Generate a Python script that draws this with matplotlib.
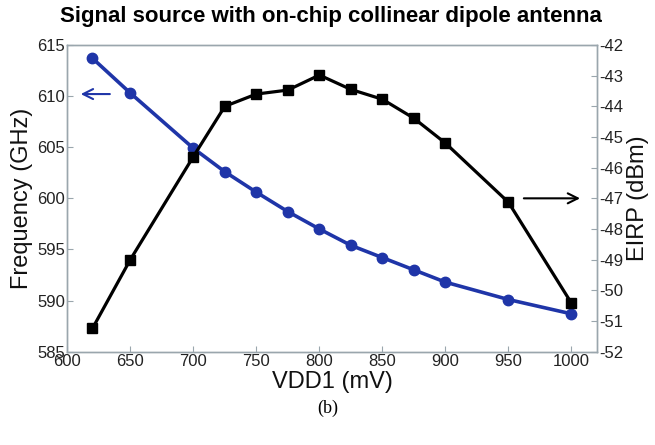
import matplotlib
matplotlib.use('Agg')
import matplotlib.pyplot as plt

plt.rcParams['font.family'] = ['Liberation Sans Narrow', 'Liberation Sans', 'DejaVu Sans']
plt.rcParams['axes.unicode_minus'] = False

vdd = [620, 650, 700, 725, 750, 775, 800, 825, 850, 875, 900, 950, 1000]
freq = [613.7, 610.3, 604.9, 602.6, 600.6, 598.7, 597.0, 595.4, 594.2, 593.0, 591.8, 590.1, 588.7]
eirp = [-51.24, -49.0, -45.64, -44.0, -43.6, -43.47, -42.98, -43.45, -43.77, -44.39, -45.2, -47.13, -50.42]

x_ticks = [600, 650, 700, 750, 800, 850, 900, 950, 1000]
f_ticks = [585, 590, 595, 600, 605, 610, 615]
e_ticks = list(range(-52, -41))

fig = plt.figure(figsize=(6.55, 4.45), dpi=100)
ax = fig.add_axes([0.1027, 0.2097, 0.8083, 0.6892])
ax2 = ax.twinx()

blue = '#1f35a8'
ax.plot(vdd, freq, color=blue, lw=2.6, marker='o', ms=7.5, zorder=3)
ax2.plot(vdd, eirp, color='black', lw=2.3, marker='s', ms=6.5, zorder=3)

ax.set_xlim(600, 1020)
ax.set_ylim(585, 615)
ax2.set_ylim(-52, -42)
ax.set_xticks(x_ticks)
ax.set_yticks(f_ticks)
ax2.set_yticks(e_ticks)

spine_col = '#9aa6ad'
for a in (ax, ax2):
    for s in a.spines.values():
        s.set_color(spine_col)
        s.set_linewidth(1.0)
    a.tick_params(direction='in', color=spine_col, labelsize=12, labelcolor='#222222',
                  length=4, pad=1.5)
ax.tick_params(axis='x', pad=2)

ax.set_xlabel('VDD1 (mV)', fontsize=17, color='#111111', labelpad=1)
ax.set_ylabel('Frequency (GHz)', fontsize=17, color='#111111', labelpad=3)
ax2.set_ylabel('EIRP (dBm)', fontsize=17, color='#111111', labelpad=3)

ax.annotate('', xy=(608.5, 610.2), xytext=(636, 610.2),
            arrowprops=dict(arrowstyle='->', color=blue, lw=1.5, mutation_scale=18))
ax2.annotate('', xy=(1009, -47.0), xytext=(960, -47.0),
             arrowprops=dict(arrowstyle='->', color='black', lw=1.5, mutation_scale=18))

fig.text(0.505, 0.962, 'Signal source with on-chip collinear dipole antenna',
         ha='center', va='center', fontsize=16, fontweight='bold')
fig.text(0.50, 0.083, '(b)', ha='center', va='center', fontsize=13,
         family=['Liberation Serif', 'DejaVu Serif'])

fig.savefig('out.png', dpi=100)
